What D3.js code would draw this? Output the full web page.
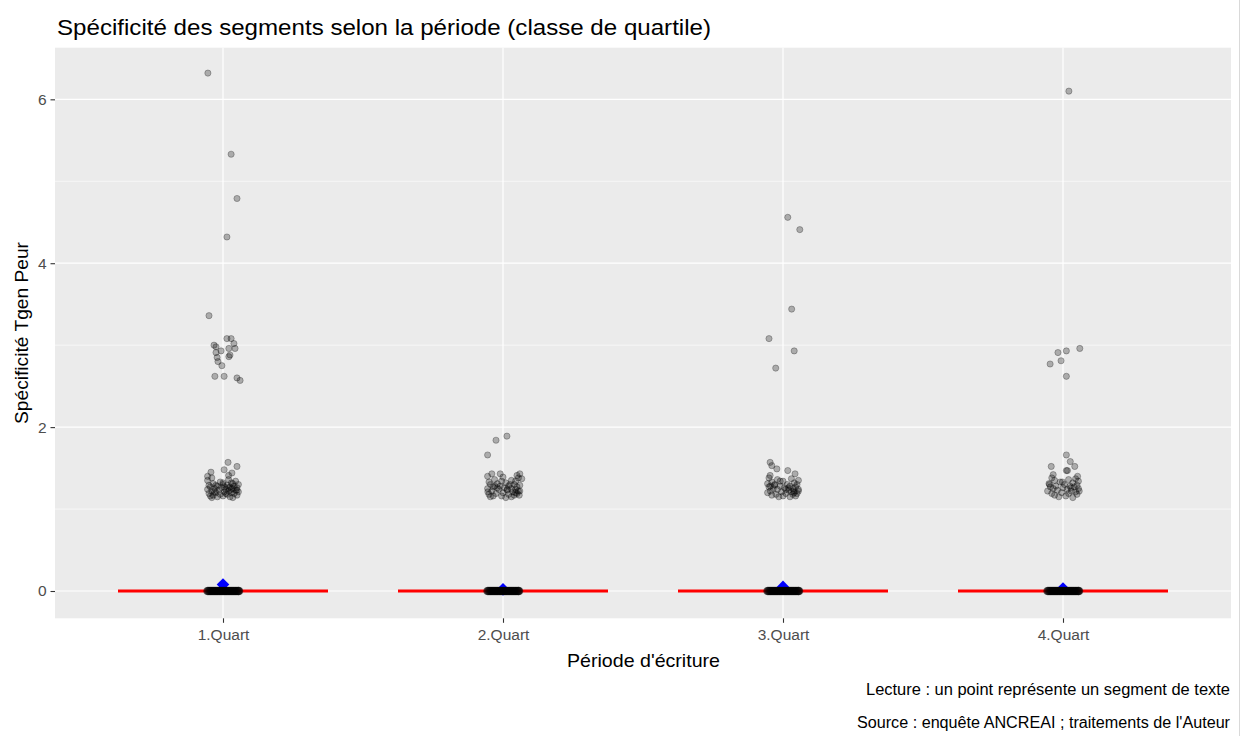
<!DOCTYPE html>
<html><head><meta charset="utf-8">
<script src="https://cdn.jsdelivr.net/npm/d3@7"></script>
<style>
html,body{margin:0;padding:0;background:#fff;}
svg{display:block;font-family:"Liberation Sans",Arial,sans-serif;}
</style></head>
<body><svg id="c" width="1243" height="736"></svg>
<script>
// ---- data ----
const categories = ["1.Quart", "2.Quart", "3.Quart", "4.Quart"];
const yTicks = [0, 2, 4, 6];
const yMinor = [1, 3, 5];
const medians = [0, 0, 0, 0];
const means = [0.08, 0.02, 0.05, 0.03];

// segments with zero specificity (jitter offsets, in category units)
const zeroJitter = [-0.056,-0.052,-0.048,-0.044,-0.040,-0.036,-0.032,-0.028,-0.024,-0.020,-0.016,-0.012,-0.008,-0.004,0.000,0.004,0.008,0.012,0.016,0.020,0.024,0.028,0.032,0.036,0.040,0.044,0.048,0.052,0.056,0.058,
  -0.054,-0.046,-0.038,-0.030,-0.022,-0.014,-0.006,0.002,0.010,0.018,0.026,0.034,0.042,0.050,0.055,
  -0.050,-0.034,-0.018,-0.002,0.014,0.030,0.046,-0.042,-0.026,-0.010,0.006,0.022,0.038,0.054];

const q1Values = [6.32,5.33,4.79,4.32,3.36,3.08,3.08,3.00,3.02,2.98,2.96,2.96,2.93,2.91,2.88,2.86,2.85,2.80,2.75,2.62,2.62,2.60,2.57,
  1.57,1.52,1.45,1.48,1.44,
  1.38,1.36,1.35,1.34,1.33,1.32,1.31,1.30,1.30,1.29,1.29,1.28,1.28,1.27,1.27,1.26,1.26,1.25,1.25,1.24,1.24,1.23,1.23,1.22,1.22,1.21,1.21,1.20,1.20,1.19,1.19,1.18,1.18,1.17,1.17,1.16,1.16,1.15,1.15,1.14,1.14,1.32,1.27,1.24,1.21,1.29,1.26,1.23,1.19,1.31,1.40,1.41];
const q1Jitter = [-0.054,0.029,0.050,0.014,-0.050,0.014,0.029,-0.032,0.039,-0.025,0.021,0.043,-0.007,-0.025,0.025,0.021,-0.021,-0.018,-0.004,-0.029,0.004,0.050,0.061,
  0.018,0.050,-0.043,0.004,0.032,
  -0.040,0.020,-0.055,0.045,-0.010,0.030,-0.035,0.055,0.000,-0.050,0.015,0.040,-0.020,-0.045,0.025,0.050,-0.005,-0.030,0.035,0.010,-0.055,0.045,-0.015,0.020,-0.040,0.055,0.005,-0.025,0.030,-0.050,0.040,-0.010,0.015,-0.035,0.050,0.000,-0.045,0.025,-0.020,0.035,-0.040,0.000,0.005,0.030,-0.030,-0.025,0.020,0.050,0.010,0.035,-0.055,0.020];

const q2Values = [1.89,1.84,1.66,
  1.43,1.43,1.43,1.41,1.40,1.39,1.38,1.37,1.36,1.35,1.34,1.33,1.32,1.31,1.30,1.30,1.29,1.28,1.28,1.27,1.27,1.26,1.25,1.25,1.24,1.24,1.23,1.22,1.22,1.21,1.21,1.20,1.19,1.19,1.18,1.18,1.17,1.16,1.16,1.15,1.15,1.14,1.30,1.26,1.22,1.34,1.20,1.28,1.24,1.17];
const q2Jitter = [0.014,-0.025,-0.055,
  -0.040,-0.010,0.060,0.050,-0.055,0.000,0.055,0.067,-0.030,0.030,0.045,-0.050,0.010,-0.020,0.040,-0.045,0.060,0.020,-0.010,-0.035,0.050,0.005,-0.055,0.030,0.045,-0.015,0.015,-0.040,0.060,-0.054,0.035,0.000,-0.025,0.050,-0.050,0.020,0.040,-0.005,-0.035,0.030,-0.045,0.010,0.025,-0.020,0.055,-0.005,0.045,-0.030,0.015,0.058];

const q3Values = [4.56,4.41,3.44,3.08,2.93,2.72,
  1.57,1.53,1.49,1.47,1.43,1.41,
  1.38,1.37,1.36,1.35,1.34,1.33,1.32,1.31,1.30,1.30,1.29,1.28,1.28,1.27,1.27,1.26,1.25,1.25,1.24,1.24,1.23,1.22,1.22,1.21,1.21,1.20,1.19,1.19,1.18,1.18,1.17,1.16,1.16,1.15,1.15,1.30,1.26,1.22,1.34,1.20,1.28,1.24];
const q3Jitter = [0.017,0.060,0.031,-0.050,0.040,-0.026,
  -0.046,-0.040,-0.022,0.017,0.043,-0.046,
  -0.050,0.030,-0.020,0.055,0.000,-0.040,0.040,-0.055,0.015,0.050,-0.030,0.025,-0.010,0.045,-0.050,0.005,-0.035,0.035,0.055,-0.020,0.020,-0.045,0.040,-0.005,0.030,-0.055,0.010,0.050,-0.025,0.035,-0.040,0.000,0.045,-0.015,0.025,-0.030,0.020,0.055,-0.010,0.040,-0.045,0.010];

const q4Values = [6.10,2.96,2.93,2.91,2.81,2.77,2.62,
  1.66,1.58,1.52,1.52,1.47,1.47,1.42,1.40,
  1.38,1.37,1.36,1.35,1.34,1.33,1.32,1.31,1.30,1.29,1.28,1.28,1.27,1.27,1.26,1.25,1.25,1.24,1.23,1.22,1.22,1.21,1.20,1.19,1.19,1.18,1.17,1.16,1.15,1.14,1.30,1.26,1.22,1.33];
const q4Jitter = [0.021,0.060,0.012,-0.018,-0.007,-0.046,0.012,
  0.012,0.026,-0.042,0.042,0.012,0.016,-0.035,0.052,
  -0.040,0.045,0.020,-0.030,0.055,-0.010,0.035,-0.050,0.005,0.050,-0.025,0.025,-0.045,0.040,0.000,-0.035,0.055,0.015,-0.020,0.030,-0.055,0.045,-0.005,-0.040,0.020,0.050,-0.030,0.010,-0.015,0.035,-0.048,0.028,0.058,-0.002];

const seriesValues = [q1Values, q2Values, q3Values, q4Values];
const seriesJitter = [q1Jitter, q2Jitter, q3Jitter, q4Jitter];

const titleText = "Spécificité des segments selon la période (classe de quartile)";
const xTitle = "Période d'écriture";
const yTitle = "Spécificité Tgen Peur";
const captions = ["Lecture : un point représente un segment de texte", "Source : enquête ANCREAI ; traitements de l'Auteur"];

// ---- layout ----
const P = {left: 55, right: 1231, top: 47.7, bottom: 618.3};
const svg = d3.select("#c");

const x = d3.scalePoint().domain(categories).range([P.left, P.right]).padding(0.6);
const step = x.step();
const y = d3.scaleLinear().domain([-0.333, 6.63]).range([P.bottom, P.top]);

// panel
svg.append("rect").attr("x", P.left).attr("y", P.top)
  .attr("width", P.right - P.left).attr("height", P.bottom - P.top).attr("fill", "#EBEBEB");

const grid = svg.append("g");
grid.selectAll(".mn").data(yMinor).join("line")
  .attr("x1", P.left).attr("x2", P.right).attr("y1", d => y(d)).attr("y2", d => y(d))
  .attr("stroke", "#fff").attr("stroke-width", 0.6);
grid.selectAll(".mj").data(yTicks).join("line")
  .attr("x1", P.left).attr("x2", P.right).attr("y1", d => y(d)).attr("y2", d => y(d))
  .attr("stroke", "#fff").attr("stroke-width", 1.2);
grid.selectAll(".vx").data(categories).join("line")
  .attr("x1", d => x(d)).attr("x2", d => x(d)).attr("y1", P.top).attr("y2", P.bottom)
  .attr("stroke", "#fff").attr("stroke-width", 1.2);

// boxplot (degenerate, all at median)
svg.append("g").selectAll("line").data(categories).join("line")
  .attr("x1", d => x(d) - 0.375 * step).attr("x2", d => x(d) + 0.375 * step)
  .attr("y1", (d, i) => y(medians[i])).attr("y2", (d, i) => y(medians[i]))
  .attr("stroke", "#FF0000").attr("stroke-width", 2.8);

// mean diamonds
const h = 6.3;
svg.append("g").selectAll("path").data(categories).join("path")
  .attr("d", (d, i) => {
    const cx = x(d), cy = y(means[i]);
    return `M${cx},${cy - h}L${cx + h},${cy}L${cx},${cy + h}L${cx - h},${cy}Z`;
  })
  .attr("fill", "#0000FF");

// points
const pts = [];
categories.forEach((c, i) => {
  zeroJitter.forEach(j => pts.push({c, v: 0, j}));
  seriesValues[i].forEach((v, k) => pts.push({c, v, j: seriesJitter[i][k]}));
});
svg.append("g").selectAll("circle").data(pts).join("circle")
  .attr("cx", d => x(d.c) + d.j * step).attr("cy", d => y(d.v)).attr("r", d => d.v === 0 ? 3.8 : 3.1)
  .attr("fill", "#000").attr("fill-opacity", 0.27)
  .attr("stroke", "#000").attr("stroke-opacity", 0.27).attr("stroke-width", 1);

// y axis
const ya = svg.append("g").attr("transform", `translate(${P.left},0)`)
  .call(d3.axisLeft(y).tickValues(yTicks).tickSize(4.5).tickPadding(4).tickFormat(d3.format("d")));
ya.select(".domain").remove();
ya.selectAll(".tick line").attr("stroke", "#333").attr("stroke-width", 1.1);
ya.selectAll(".tick text").attr("fill", "#4D4D4D").style("font-size", "15.5px").style("font-family", "Liberation Sans, Arial, sans-serif");

// x axis
const xa = svg.append("g").attr("transform", `translate(0,${P.bottom})`)
  .call(d3.axisBottom(x).tickSize(4.5).tickPadding(6));
xa.select(".domain").remove();
xa.selectAll(".tick line").attr("stroke", "#333").attr("stroke-width", 1.1);
xa.selectAll(".tick text").attr("fill", "#4D4D4D").style("font-size", "15.5px").style("font-family", "Liberation Sans, Arial, sans-serif");

// titles
svg.append("text").attr("x", 57).attr("y", 35).attr("font-size", 22).attr("fill", "#000")
  .attr("textLength", 654).attr("lengthAdjust", "spacingAndGlyphs").text(titleText);
svg.append("text").attr("x", 643.5).attr("y", 667).attr("text-anchor", "middle")
  .attr("font-size", 18.5).attr("fill", "#000")
  .attr("textLength", 153).attr("lengthAdjust", "spacingAndGlyphs").text(xTitle);
svg.append("text").attr("transform", `translate(28,${(P.top + P.bottom) / 2}) rotate(-90)`)
  .attr("text-anchor", "middle").attr("font-size", 18.5).attr("fill", "#000")
  .attr("textLength", 182).attr("lengthAdjust", "spacingAndGlyphs").text(yTitle);

const capLen = [364, 373];
svg.append("g").selectAll("text").data(captions).join("text")
  .attr("x", 1230).attr("y", (d, i) => 694.5 + i * 33).attr("text-anchor", "end")
  .attr("font-size", 16).attr("fill", "#000")
  .attr("textLength", (d, i) => capLen[i]).attr("lengthAdjust", "spacingAndGlyphs").text(d => d);

// thin frame line at right edge
svg.append("line").attr("x1", 1239.5).attr("x2", 1239.5).attr("y1", 0).attr("y2", 736)
  .attr("stroke", "#D9D9D9").attr("stroke-width", 1);
</script></body></html>
